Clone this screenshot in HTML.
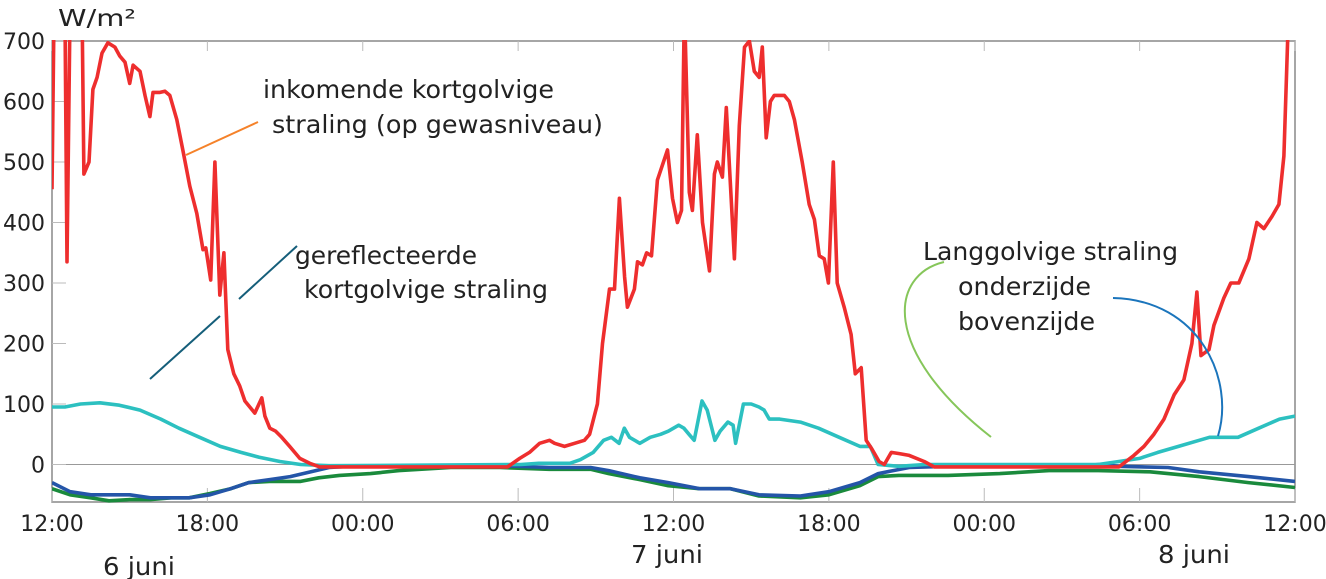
<!DOCTYPE html>
<html><head><meta charset="utf-8"><style>
html,body{margin:0;padding:0;background:#fff;}
svg{display:block;font-family:"DejaVu Sans","Liberation Sans",sans-serif;}
</style></head><body>
<svg id="chart" width="1326" height="579" viewBox="0 0 1326 579" xmlns="http://www.w3.org/2000/svg">
<defs><clipPath id="pc"><rect x="52" y="40" width="1243" height="463"/></clipPath></defs>
<g id="axes"></g>
<g id="series" clip-path="url(#pc)"></g>
<g id="annot">
<text x="58" y="26" font-size="23" fill="#222" textLength="78" lengthAdjust="spacingAndGlyphs">W/m²</text>
<text x="263" y="98" font-size="25" fill="#222" textLength="291" lengthAdjust="spacingAndGlyphs">inkomende kortgolvige</text>
<text x="272" y="133" font-size="25" fill="#222" textLength="331" lengthAdjust="spacingAndGlyphs">straling (op gewasniveau)</text>
<line x1="186" y1="155" x2="258" y2="122" stroke="#f5822a" stroke-width="2"/>
<text x="295" y="264" font-size="25" fill="#222" textLength="182" lengthAdjust="spacingAndGlyphs">gereflecteerde</text>
<text x="304" y="298" font-size="25" fill="#222" textLength="244" lengthAdjust="spacingAndGlyphs">kortgolvige straling</text>
<line x1="150" y1="379" x2="220" y2="316" stroke="#155e7a" stroke-width="2"/>
<line x1="239" y1="299" x2="297" y2="246" stroke="#155e7a" stroke-width="2"/>
<text x="923" y="260" font-size="25" fill="#222" textLength="255" lengthAdjust="spacingAndGlyphs">Langgolvige straling</text>
<text x="958" y="295" font-size="25" fill="#222" textLength="133" lengthAdjust="spacingAndGlyphs">onderzijde</text>
<text x="958" y="330" font-size="25" fill="#222" textLength="137" lengthAdjust="spacingAndGlyphs">bovenzijde</text>
<path d="M944,262 C890,275 880,350 991,437" fill="none" stroke="#86c65a" stroke-width="2"/>
<path d="M1113,298 C1200,300 1235,380 1218,436" fill="none" stroke="#1b75bc" stroke-width="2"/>
<text x="139" y="575" font-size="25" fill="#222" text-anchor="middle" textLength="72" lengthAdjust="spacingAndGlyphs">6 juni</text>
<text x="667" y="563" font-size="25" fill="#222" text-anchor="middle" textLength="72" lengthAdjust="spacingAndGlyphs">7 juni</text>
<text x="1194" y="563" font-size="25" fill="#222" text-anchor="middle" textLength="72" lengthAdjust="spacingAndGlyphs">8 juni</text>
</g>
</svg>
<script>
const xTickHours = [0, 6, 12, 18, 24, 30, 36, 42, 48];
const xTickLabels = ["12:00", "18:00", "00:00", "06:00", "12:00", "18:00", "00:00", "06:00", "12:00"];
const yTicks = [0, 100, 200, 300, 400, 500, 600, 700];

const redT = [0,0.08,0.3,0.5,0.58,0.7,1.0,1.16,1.23,1.43,1.58,1.74,1.93,2.16,2.43,2.62,2.82,3.0,3.13,3.4,3.59,3.78,3.9,4.17,4.36,4.55,4.82,5.05,5.32,5.59,5.83,5.94,6.13,6.29,6.48,6.64,6.79,7.02,7.25,7.45,7.83,8.1,8.22,8.41,8.64,8.87,9.18,9.57,9.95,10.34,17.59,18.06,18.44,18.83,19.21,19.41,19.79,20.18,20.56,20.76,21.06,21.26,21.53,21.72,21.91,22.11,22.22,22.49,22.61,22.8,22.96,23.15,23.38,23.77,23.96,24.15,24.31,24.42,24.61,24.73,24.92,25.12,25.39,25.58,25.69,25.89,26.04,26.35,26.54,26.74,26.93,27.12,27.31,27.43,27.58,27.74,27.89,28.28,28.47,28.67,28.97,29.24,29.44,29.63,29.82,29.98,30.17,30.32,30.59,30.86,31.02,31.25,31.44,31.67,31.94,32.14,32.41,32.72,33.1,33.68,34.07,34.65,41.2,41.78,42.17,42.55,42.94,43.33,43.71,44.02,44.21,44.37,44.68,44.87,45.25,45.52,45.83,46.22,46.53,46.8,47.11,47.38,47.57,47.76,48];
const redV = [455,760,760,760,335,760,760,760,480,500,620,640,680,697,690,675,665,630,660,650,610,575,615,615,617,610,570,520,460,415,355,358,305,500,280,350,190,150,130,105,85,110,80,60,55,45,30,10,2,-4,-4,10,20,35,40,35,30,35,40,50,100,200,290,290,440,310,260,290,335,330,350,345,470,520,440,400,420,760,450,420,545,400,320,480,500,475,590,340,560,690,700,650,640,690,540,600,610,610,600,570,500,430,405,345,340,300,500,300,260,215,150,160,40,25,5,0,20,18,15,5,-4,-4,-4,15,30,50,75,115,140,200,285,180,190,230,275,300,300,340,400,390,410,430,510,760,760];

const cyanT = [0,0.5,1.1,1.85,2.6,3.4,4.2,4.9,5.7,6.5,7.3,8,8.8,9.6,10.7,18.1,18.8,20,20.4,20.9,21.3,21.6,21.9,22.1,22.3,22.7,23.1,23.5,23.8,24.2,24.4,24.6,24.8,25.1,25.3,25.6,25.8,26.1,26.3,26.4,26.7,27,27.3,27.5,27.7,28.1,28.9,29.6,30.4,31.2,31.6,31.7,31.9,32.7,33.7,40.4,41.2,42,42.7,43.5,44.3,44.7,45.1,45.8,46.6,47.4,48];
const cyanV = [95,95,100,102,98,90,75,60,45,30,20,12,5,0,-2,0,2,2,8,20,40,45,35,60,45,35,45,50,55,65,60,50,40,105,90,40,55,70,65,35,100,100,95,90,75,75,70,60,45,30,30,20,0,-3,0,0,5,10,20,30,40,45,45,45,60,75,80];

const blueT = [0,0.7,1.5,2.2,3,3.8,4.6,5.3,6.1,6.9,7.6,8.4,9.2,10,10.7,11.5,17.3,19.2,20.8,21.5,22.7,23.8,25,26.2,27.3,28.9,30,31.2,31.9,33.1,34.6,39.6,40.4,41.2,43.1,44.3,46.2,48];
const blueV = [-30,-45,-50,-50,-50,-55,-55,-55,-50,-40,-30,-25,-20,-12,-5,-3,-2,-5,-5,-10,-22,-30,-40,-40,-50,-52,-45,-30,-15,-5,-3,-3,0,-3,-5,-12,-20,-28];

const greenT = [0,0.7,1.5,2.2,3,3.8,4.6,5.3,6.1,6.9,7.6,8.4,9.6,10.3,11.1,12.3,13.4,15.4,17.3,19.2,20.8,21.5,22.7,23.8,25,26.2,27.3,28.9,30,31.2,31.9,32.7,34.6,36.6,38.5,40.4,42.4,44.3,46.2,48];
const greenV = [-40,-50,-55,-60,-58,-58,-55,-55,-48,-40,-30,-28,-28,-22,-18,-15,-10,-5,-5,-8,-8,-15,-25,-35,-40,-40,-52,-55,-50,-35,-20,-18,-18,-15,-10,-10,-12,-20,-30,-38];

const NS = "http://www.w3.org/2000/svg";
const X0 = 52, X1 = 1295, Y0 = 464.5, YTOP = 41, YBOT = 502;
function xs(h){ return X0 + (X1 - X0) * h / 48; }
function ys(v){ return Y0 - (Y0 - YTOP) * v / 700; }
function mk(tag, attrs, parent){ const e = document.createElementNS(NS, tag); for (const k in attrs) e.setAttribute(k, attrs[k]); parent.appendChild(e); return e; }

const axes = document.getElementById('axes');
const frame = mk('rect', {x: X0, y: YTOP, width: X1 - X0, height: YBOT - YTOP, fill: 'none', stroke: '#888', 'stroke-width': 1.5}, axes);


const zl = mk('line', {x1: X0, x2: X1, y1: ys(0), y2: ys(0), stroke: '#999', 'stroke-width': 1}, axes);


yTicks.forEach(v => {
  const t = mk('text', {x: 45, y: ys(v) + 8, 'font-size': 22, fill: '#222', 'text-anchor': 'end'}, axes);
  t.textContent = v;
  
  
  const tk = mk('line', {x1: X0, x2: X0 + 14, y1: ys(v), y2: ys(v), stroke: '#bbb', 'stroke-width': 1}, axes);
  
  
});
xTickHours.forEach((h, i) => {
  const t = mk('text', {x: xs(h), y: 531, 'font-size': 22, fill: '#222', 'text-anchor': 'middle'}, axes);
  t.textContent = xTickLabels[i];
  
  
  const tk = mk('line', {x1: xs(h), x2: xs(h), y1: YBOT, y2: YBOT - 14, stroke: '#bbb', 'stroke-width': 1}, axes);
  
  
  const tt = mk('line', {x1: xs(h), x2: xs(h), y1: YTOP, y2: YTOP + 10, stroke: '#bbb', 'stroke-width': 1}, axes);
  
  
});

const sg = document.getElementById('series');
function line(T, V, color, name){
  const d = T.map((h, i) => (i ? 'L' : 'M') + xs(h).toFixed(1) + ',' + ys(V[i]).toFixed(1)).join(' ');
  const p = mk('path', {d: d, fill: 'none', stroke: color, 'stroke-width': 3.6, 'stroke-linejoin': 'round'}, sg);
  
  
}
line(greenT, greenV, '#1a8a3c', 'series-longwave-underside');
line(blueT, blueV, '#2455a8', 'series-longwave-upperside');
line(cyanT, cyanV, '#2cc0c0', 'series-reflected-shortwave');
line(redT, redV, '#ee2e2e', 'series-incoming-shortwave');
</script>
</body></html>
